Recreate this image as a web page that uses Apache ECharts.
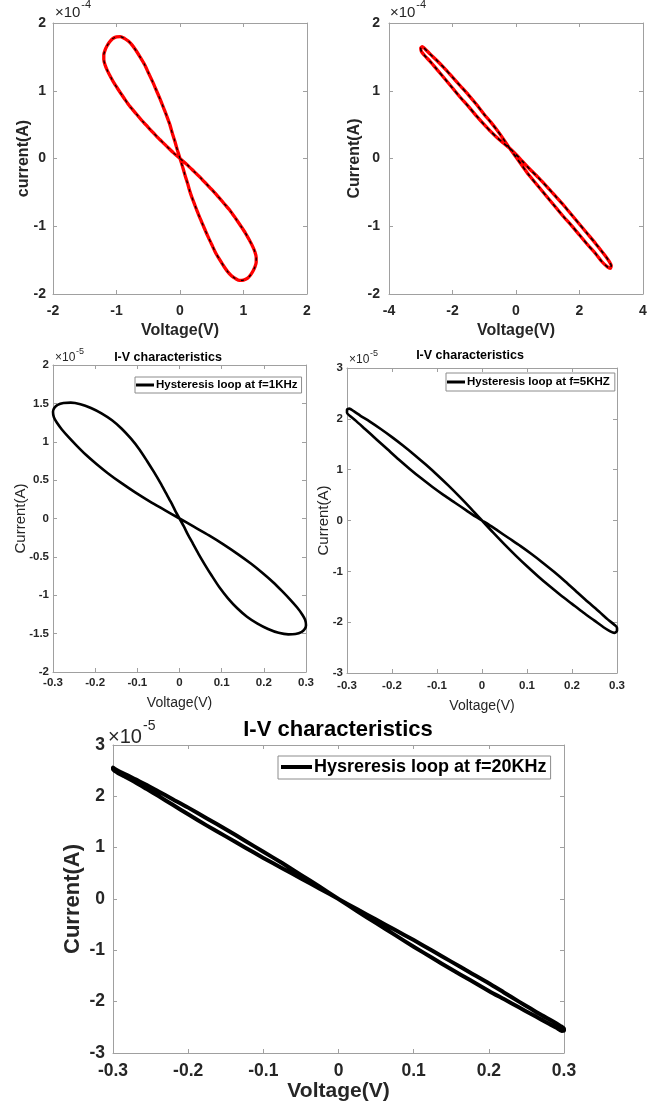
<!DOCTYPE html>
<html>
<head>
<meta charset="utf-8">
<script src="https://cdn.jsdelivr.net/npm/echarts@6/dist/echarts.min.js"></script>
<style>
  html, body { margin: 0; padding: 0; background: #fff; }
  #chart { width: 661px; height: 1111px; }
</style>
</head>
<body>
<div id="chart"></div>
<script>
// Pinched hysteresis loops of a memristor: voltage (V) vs current.
// Top row currents are in units of 1e-4 A, the rest in units of 1e-5 A.

// Model loop, sine drive of 1.2 V amplitude
const loopA_V = [0, -0.04, -0.08, -0.12, -0.16, -0.21, -0.26, -0.31, -0.37, -0.43, -0.5, -0.56, -0.63, -0.69, -0.75, -0.81, -0.87, -0.94, -1.0, -1.06, -1.11, -1.15, -1.18, -1.2, -1.2, -1.18, -1.14, -1.09, -1.03, -0.96, -0.88, -0.79, -0.69, -0.58, -0.46, -0.34, -0.22, -0.11,
                 0, 0.11, 0.22, 0.34, 0.46, 0.58, 0.69, 0.79, 0.88, 0.96, 1.03, 1.09, 1.14, 1.18, 1.2, 1.2, 1.18, 1.15, 1.11, 1.06, 1.0, 0.94, 0.87, 0.81, 0.75, 0.69, 0.63, 0.56, 0.5, 0.43, 0.37, 0.31, 0.26, 0.21, 0.16, 0.12, 0.08, 0.04, 0];
const loopA_I = [0, 0.12, 0.25, 0.37, 0.5, 0.63, 0.75, 0.87, 1.0, 1.13, 1.27, 1.39, 1.5, 1.59, 1.67, 1.73, 1.77, 1.8, 1.795, 1.77, 1.72, 1.66, 1.6, 1.53, 1.46, 1.38, 1.29, 1.2, 1.1, 1.0, 0.89, 0.77, 0.66, 0.54, 0.42, 0.30, 0.19, 0.09,
                 0, -0.09, -0.19, -0.30, -0.42, -0.54, -0.66, -0.77, -0.89, -1.0, -1.1, -1.2, -1.29, -1.38, -1.46, -1.53, -1.6, -1.66, -1.72, -1.77, -1.795, -1.8, -1.77, -1.73, -1.67, -1.59, -1.5, -1.39, -1.27, -1.13, -1.0, -0.87, -0.75, -0.63, -0.5, -0.37, -0.25, -0.12, 0];

// Model loop, sine drive of 3 V amplitude
const loopB_V = [-0.2, -0.4, -0.6, -0.8, -1.0, -1.25, -1.5, -1.75, -2.0, -2.25, -2.5, -2.7, -2.85, -2.95, -3.0, -2.98, -2.88, -2.7, -2.5, -2.25, -2.0, -1.75, -1.5, -1.25, -1.0, -0.8, -0.6, -0.4,
                 -0.2, 0, 0.2, 0.4, 0.7, 1.0, 1.25, 1.5, 1.75, 2.0, 2.25, 2.5, 2.7, 2.85, 2.95, 3.0, 2.97, 2.88, 2.7, 2.5, 2.25, 2.0, 1.75, 1.5, 1.25, 1.0, 0.7, 0.4, 0.2, 0, -0.2];
const loopB_I = [0.15, 0.29, 0.42, 0.54, 0.65, 0.8, 0.94, 1.07, 1.2, 1.33, 1.45, 1.54, 1.61, 1.65, 1.63, 1.58, 1.52, 1.43, 1.32, 1.18, 1.04, 0.9, 0.77, 0.63, 0.5, 0.4, 0.31, 0.23,
                 0.15, 0.06, -0.04, -0.14, -0.28, -0.43, -0.56, -0.69, -0.83, -0.97, -1.11, -1.25, -1.37, -1.46, -1.53, -1.58, -1.62, -1.6, -1.52, -1.4, -1.27, -1.13, -0.99, -0.86, -0.72, -0.58, -0.41, -0.24, -0.11, 0.02, 0.15];

// Measured loop at f = 1 kHz
const loop1k_V = [0, -0.01, -0.02, -0.032, -0.045, -0.06, -0.077, -0.095, -0.115, -0.137, -0.16, -0.185, -0.21, -0.235, -0.258, -0.275, -0.289, -0.297, -0.3, -0.298, -0.291, -0.279, -0.263, -0.244, -0.222, -0.197, -0.17, -0.14, -0.105, -0.07, -0.035,
                  0, 0.035, 0.07, 0.105, 0.14, 0.17, 0.197, 0.222, 0.244, 0.263, 0.279, 0.291, 0.298, 0.3, 0.297, 0.289, 0.275, 0.258, 0.235, 0.21, 0.185, 0.16, 0.137, 0.115, 0.095, 0.077, 0.06, 0.045, 0.032, 0.02, 0.01, 0];
const loop1k_I = [0, 0.1, 0.21, 0.33, 0.46, 0.6, 0.75, 0.9, 1.04, 1.17, 1.28, 1.37, 1.44, 1.49, 1.51, 1.505, 1.48, 1.44, 1.39, 1.32, 1.25, 1.16, 1.06, 0.95, 0.83, 0.71, 0.59, 0.47, 0.34, 0.22, 0.11,
                  0, -0.11, -0.22, -0.34, -0.47, -0.59, -0.71, -0.83, -0.95, -1.06, -1.16, -1.25, -1.32, -1.39, -1.44, -1.48, -1.505, -1.51, -1.49, -1.44, -1.37, -1.28, -1.17, -1.04, -0.9, -0.75, -0.6, -0.46, -0.33, -0.21, -0.1, 0];

// Measured loop at f = 5 kHz
const loop5k_V = [0, -0.025, -0.05, -0.075, -0.1, -0.125, -0.15, -0.175, -0.2, -0.225, -0.25, -0.27, -0.285, -0.295, -0.3, -0.3, -0.294, -0.28, -0.26, -0.235, -0.21, -0.185, -0.16, -0.135, -0.11, -0.085, -0.06, -0.035, -0.015,
                  0, 0.015, 0.035, 0.06, 0.085, 0.11, 0.135, 0.16, 0.185, 0.21, 0.235, 0.26, 0.28, 0.294, 0.3, 0.3, 0.294, 0.285, 0.27, 0.25, 0.225, 0.2, 0.175, 0.15, 0.125, 0.1, 0.075, 0.05, 0.025, 0];
const loop5k_I = [0, 0.24, 0.47, 0.69, 0.9, 1.1, 1.29, 1.47, 1.64, 1.8, 1.95, 2.06, 2.15, 2.2, 2.18, 2.12, 2.06, 1.96, 1.8, 1.6, 1.4, 1.2, 1.01, 0.83, 0.66, 0.5, 0.35, 0.2, 0.08,
                  0, -0.08, -0.2, -0.35, -0.5, -0.66, -0.83, -1.01, -1.2, -1.4, -1.6, -1.79, -1.95, -2.05, -2.11, -2.17, -2.21, -2.18, -2.1, -1.97, -1.81, -1.64, -1.47, -1.29, -1.1, -0.9, -0.69, -0.47, -0.24, 0];

// Measured loop at f = 20 kHz
const loop20k_V = [0, -0.025, -0.05, -0.075, -0.1, -0.125, -0.15, -0.175, -0.2, -0.22, -0.24, -0.255, -0.27, -0.282, -0.292, -0.298, -0.3, -0.3, -0.295, -0.285,
                   -0.27, -0.255, -0.24, -0.22, -0.2, -0.175, -0.15, -0.125, -0.1, -0.075, -0.05, -0.025,
                   0, 0.025, 0.05, 0.075, 0.1, 0.125, 0.15, 0.175, 0.2, 0.22, 0.24, 0.255, 0.27, 0.285, 0.295, 0.3, 0.3, 0.297,
                   0.29, 0.28, 0.27, 0.255, 0.24, 0.22, 0.2, 0.175, 0.15, 0.125, 0.1, 0.075, 0.05, 0.025, 0];
const loop20k_I = [0, 0.24, 0.47, 0.7, 0.92, 1.14, 1.36, 1.57, 1.78, 1.94, 2.1, 2.22, 2.33, 2.42, 2.49, 2.54, 2.56, 2.53, 2.47, 2.39,
                   2.27, 2.14, 2.01, 1.83, 1.65, 1.43, 1.22, 1.01, 0.8, 0.6, 0.4, 0.2,
                   0, -0.2, -0.4, -0.6, -0.8, -1.01, -1.22, -1.43, -1.64, -1.82, -2.0, -2.13, -2.26, -2.38, -2.47, -2.53, -2.56, -2.57,
                   -2.51, -2.43, -2.35, -2.23, -2.11, -1.95, -1.79, -1.58, -1.37, -1.15, -0.93, -0.7, -0.47, -0.24, 0];

const legendNames = ['Hysteresis loop at f=1KHz', 'Hysteresis loop at f=5KHZ', 'Hysreresis loop at f=20KHz'];

const zip = (v, i) => v.map((x, k) => [x, i[k]]);

const axisGray = '#a0a0a0';
const ink = '#262626';
const sans = '"Liberation Sans", Arial, sans-serif';

const panels = [
  { grid: { left: 53, top: 23, width: 254, height: 271 }, x: [-2, 2, 1], y: [-2, 2, 1],
    tick: 14, xName: 'Voltage(V)', yName: 'current(A)', xNameSize: 16, yNameSize: 16, nameW: 'bold',
    xGap: 29, yGap: 21, xMargin: 10, yMargin: 7 },
  { grid: { left: 389, top: 23, width: 254, height: 271 }, x: [-4, 4, 2], y: [-2, 2, 1],
    tick: 14, xName: 'Voltage(V)', yName: 'Current(A)', xNameSize: 16, yNameSize: 16, nameW: 'bold',
    xGap: 29, yGap: 26, xMargin: 10, yMargin: 9 },
  { grid: { left: 53, top: 365, width: 253, height: 307 }, x: [-0.3, 0.3, 0.1], y: [-2, 2, 0.5],
    tick: 11.5, xName: 'Voltage(V)', yName: 'Current(A)', xNameSize: 14, yNameSize: 15, nameW: 'normal',
    xGap: 24, yGap: 25, xMargin: 5, yMargin: 4 },
  { grid: { left: 347, top: 368, width: 270, height: 305 }, x: [-0.3, 0.3, 0.1], y: [-3, 3, 1],
    tick: 11.5, xName: 'Voltage(V)', yName: 'Current(A)', xNameSize: 14, yNameSize: 15, nameW: 'normal',
    xGap: 26, yGap: 16, xMargin: 7, yMargin: 4 },
  { grid: { left: 113, top: 745, width: 451, height: 308 }, x: [-0.3, 0.3, 0.1], y: [-3, 3, 1],
    tick: 17.5, xName: 'Voltage(V)', yName: 'Current(A)', xNameSize: 21, yNameSize: 22, nameW: 'bold',
    xGap: 27, yGap: 29, xMargin: 9, yMargin: 8 }
];

const grids = [], xAxes = [], yAxes = [];
panels.forEach((p, i) => {
  grids.push(Object.assign({ show: false }, p.grid));
  const line = { show: true, onZero: false, lineStyle: { color: axisGray, width: 1 } };
  const tick = { show: true, inside: true, length: 4, lineStyle: { color: axisGray } };
  const label = { color: ink, fontFamily: sans, fontSize: p.tick, fontWeight: 'bold' };
  const nameStyle = size => ({ color: ink, fontFamily: sans, fontSize: size, fontWeight: p.nameW });
  xAxes.push({ gridIndex: i, type: 'value', min: p.x[0], max: p.x[1], interval: p.x[2],
    axisLine: line, axisTick: tick, splitLine: { show: false },
    axisLabel: Object.assign({ margin: p.xMargin }, label),
    name: p.xName, nameLocation: 'middle', nameGap: p.xGap, nameTextStyle: nameStyle(p.xNameSize) });
  xAxes.push({ gridIndex: i, type: 'value', position: 'top', min: p.x[0], max: p.x[1], interval: p.x[2],
    axisLine: line, axisTick: tick, splitLine: { show: false }, axisLabel: { show: false } });
  yAxes.push({ gridIndex: i, type: 'value', min: p.y[0], max: p.y[1], interval: p.y[2],
    axisLine: line, axisTick: tick, splitLine: { show: false },
    axisLabel: Object.assign({ margin: p.yMargin }, label),
    name: p.yName, nameLocation: 'middle', nameRotate: 90, nameGap: p.yGap, nameMoveOverlap: false,
    nameTextStyle: nameStyle(p.yNameSize) });
  yAxes.push({ gridIndex: i, type: 'value', position: 'right', min: p.y[0], max: p.y[1], interval: p.y[2],
    axisLine: line, axisTick: tick, splitLine: { show: false }, axisLabel: { show: false } });
});

function loop(i, data, color, width, extra) {
  return Object.assign({
    type: 'line', xAxisIndex: 2 * i, yAxisIndex: 2 * i, data: data,
    showSymbol: false, symbol: 'none', smooth: 0.25, clip: false, silent: true,
    lineStyle: { color: color, width: width, join: 'round', cap: 'round' }, animation: false
  }, extra || {});
}

const dataA = zip(loopA_V, loopA_I);
const dataB = zip(loopB_V, loopB_I);

const series = [
  loop(0, dataA, '#ff0000', 3.3),
  loop(0, dataA, '#000', 1.2, { lineStyle: { color: '#000', width: 1.2, type: [3, 6] } }),
  loop(1, dataB, '#ff0000', 3.3),
  loop(1, dataB, '#000', 1.4, { lineStyle: { color: '#000', width: 1.5, type: [4, 4] } }),
  loop(2, zip(loop1k_V, loop1k_I), '#000', 2.6, { name: legendNames[0] }),
  loop(3, zip(loop5k_V, loop5k_I), '#000', 2.6, { name: legendNames[1] }),
  loop(4, zip(loop20k_V, loop20k_I), '#000', 4, { name: legendNames[2] })
];

function legendBox(name, left, top, size, iconW, iconH, pad) {
  return {
    data: [name], left: left, top: top, orient: 'horizontal', icon: 'rect',
    itemWidth: iconW, itemHeight: iconH, padding: pad,
    borderColor: '#8c8c8c', borderWidth: 1, backgroundColor: '#fff',
    selectedMode: false,
    textStyle: { color: '#000', fontFamily: sans, fontSize: size, fontWeight: 'bold', padding: [0, 0, 0, -3] },
    itemStyle: { color: '#000' }
  };
}

const legends = [
  legendBox(legendNames[0], 135, 377, 11.5, 18, 3, [2, 4, 2, 1]),
  legendBox(legendNames[1], 446, 373, 11.5, 18, 3, [3, 5, 3, 1]),
  legendBox(legendNames[2], 278, 756, 18, 31, 4, [2, 4, 3, 3])
];

// exponent markers and titles
function txt(x, y, s, size, weight, color, align) {
  return { type: 'text', x: x, y: y, silent: true,
    style: { text: s, fill: color || ink, font: (weight || 'normal') + ' ' + size + 'px ' + sans, textAlign: align || 'left' } };
}
function expo(x, y, sup, size) {
  return [txt(x, y, '×10', size), txt(x + size * 1.75, y - size * 0.4, sup, Math.round(size * 0.72))];
}

const graphics = [].concat(
  expo(55, 5, '-4', 15),
  expo(390, 5, '-4', 15),
  expo(55, 352, '-5', 12),
  expo(349, 354, '-5', 12),
  expo(108, 727, '-5', 20),
  [
    txt(168, 351, 'I-V characteristics', 12.5, 'bold', '#000', 'center'),
    txt(470, 349, 'I-V characteristics', 12.5, 'bold', '#000', 'center'),
    txt(338, 719, 'I-V characteristics', 22, 'bold', '#000', 'center')
  ]
);

const chart = echarts.init(document.getElementById('chart'), null, { renderer: 'canvas' });
chart.setOption({
  backgroundColor: '#fff',
  animation: false,
  grid: grids,
  xAxis: xAxes,
  yAxis: yAxes,
  legend: legends,
  series: series,
  graphic: graphics
});
</script>
</body>
</html>
